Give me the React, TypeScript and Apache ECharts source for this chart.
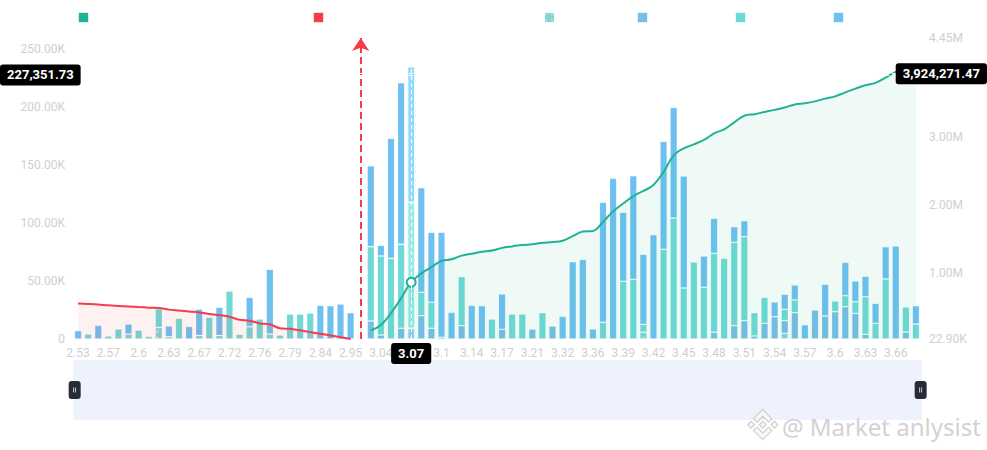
import React, { useEffect, useRef } from "react";
import * as echarts from "echarts";

// ---- data ----
const categories = [
  "2.53", "2.54", "2.56", "2.57", "2.58", "2.59", "2.6", "2.61", "2.62", "2.63",
  "2.64", "2.66", "2.67", "2.69", "2.7", "2.72", "2.73", "2.75", "2.76", "2.77",
  "2.78", "2.79", "2.81", "2.83", "2.84", "2.88", "2.92", "2.95", "2.99", "3.03",
  "3.04", "3.05", "3.06", "3.07", "3.08", "3.09", "3.1", "3.11", "3.13", "3.14",
  "3.15", "3.16", "3.17", "3.18", "3.2", "3.21", "3.23", "3.29", "3.32", "3.33",
  "3.35", "3.36", "3.37", "3.38", "3.39", "3.4", "3.41", "3.42", "3.43", "3.44",
  "3.45", "3.46", "3.47", "3.48", "3.49", "3.5", "3.51", "3.52", "3.53", "3.54",
  "3.55", "3.56", "3.57", "3.58", "3.59", "3.6", "3.61", "3.62", "3.63", "3.64",
  "3.65", "3.66", "3.67", "3.68",
];

// bar segments, in thousands (stacked bottom -> top)
const dottedVol = [
  0, 0, 0, 0, 0, 0, 0, 0, 10, 0, 0, 0, 0, 0, 0, 0, 0, 0, 0, 0,
  0, 0, 0, 0, 0, 0, 0, 0, 0, 0, 0, 0, 0, 0, 0, 0, 0, 0, 0, 0,
  0, 0, 0, 0, 0, 0, 0, 0, 0, 0, 0, 0, 0, 0, 0, 0, 5.8, 0, 0, 0,
  0, 0, 0, 0, 0, 0, 0, 0, 0, 0, 4.9, 0, 0, 0, 0, 0, 0, 0, 0, 0,
  0, 0, 0, 0,
];
const darkBlueVol = [
  0, 0, 0, 0, 0, 0, 0, 0, 0, 0, 0, 0, 0, 0, 0, 0, 0, 0, 0, 0,
  0, 0, 0, 0, 0, 0, 0, 0, 0, 15.5, 3.4, 0, 9.2, 9.2, 20.1, 9.2, 0, 0, 11.5, 0,
  0, 0, 8.3, 0, 0, 8.6, 0, 11.2, 0, 0, 0, 0, 0, 0, 0, 0, 0, 0, 0, 0,
  0, 0, 0, 5.8, 0, 11.5, 15.8, 2.6, 13.5, 19.2, 10.9, 22.7, 0, 25, 19.8, 23.5, 27.8, 22.1, 4, 0,
  0, 0, 6, 0,
];
const tealVol = [
  0, 4.3, 0, 2.6, 8.6, 4.3, 7.7, 2.3, 16, 2, 17.8, 0, 3, 18.7, 3, 41.3, 4, 10.6, 17.2, 4.3,
  3.4, 21.5, 21.5, 22.4, 0, 0, 0, 0, 0, 64, 68.1, 69.5, 72.3, 108.5, 20.1, 22.4, 1.5, 0, 42.2, 0,
  0, 17.2, 0, 21.5, 21.5, 0, 22.7, 0, 0, 0, 0, 0, 14.4, 0, 49.7, 51.4, 6.8, 0, 77.2, 104.2,
  43.9, 66.3, 44.5, 68, 69.5, 71.8, 72.3, 20.1, 22.4, 0, 9.8, 10.9, 0, 0, 0, 9.2, 9.5, 10, 32.4, 13.5,
  51.7, 0, 21.6, 12.9,
];
const blueVol = [
  7.2, 0, 11.8, 0, 0, 8.6, 0, 0, 0, 9.2, 0, 10.9, 22.8, 0, 24.3, 0, 0, 25.3, 0, 55.7,
  0, 0, 0, 0, 29, 28.7, 30.1, 22.7, 0, 69.7, 9.2, 103.3, 139.2, 116.8, 90.1, 60.3, 90.4, 23, 0, 29,
  28.7, 0, 30.5, 0, 0, 0, 0, 0, 19.5, 66.6, 68.6, 8.6, 103.3, 138.4, 59.4, 89.2, 60.3, 89.8, 93, 95.3,
  96.5, 0, 27, 30.1, 0, 13.4, 13.8, 0, 0, 12.7, 12.9, 12.9, 12.3, 0, 27.3, 0, 28.7, 17.8, 17.6, 17.2,
  27.8, 80.1, 0, 15.8,
];

// cumulative depth, in thousands
const bidDepth = [
  545, 538, 530, 518, 510, 502, 492, 484, 480, 455, 443, 428, 414, 392, 374, 350, 305, 292, 252, 239,
  180, 172, 150, 125, 100, 75, 50, 22.9,
];
const askDepth = [
  149, 230, 403, 624, 858, 988, 1080, 1172, 1195, 1249, 1278, 1307, 1324, 1363, 1385, 1406, 1415, 1438, 1449,
  1469, 1535, 1604, 1612, 1745, 1900, 2015, 2125, 2200, 2288, 2480, 2725, 2827, 2886, 2950, 3048, 3107,
  3210, 3307, 3330, 3362, 3393, 3428, 3472, 3490, 3518, 3558, 3592, 3650, 3705, 3755, 3790, 3868, 3952,
  3988, 4009,
];

const leftTicks = [0, 50000, 100000, 150000, 200000, 250000];
const rightTicks = [22900, 1000000, 2000000, 3000000, 4450000];
const leftMax = 259200;
const rightMin = 22900;
const rightMax = 4450000;
const midIndex = 28; // current price gap
const focusIndex = 33;
const focusLeftValue = 227351.73;
const focusRightValue = 3924271.47;

const logoPath =
  "M38.73 53.2 L64 27.93 L89.28 53.22 L103.98 38.52 L64 -1.45 L24.04 38.51 Z M-1.45 64 L13.25 49.3 L27.95 64 L13.25 78.7 Z M38.73 74.8 L64 100.07 L89.27 74.8 L103.98 89.49 L64 129.45 L24.04 89.49 Z M100.05 64 L114.75 49.3 L129.45 64 L114.75 78.7 Z M78.91 64 L64 49.08 L49.08 64 L64 78.91 Z";

let logoRegistered = false;

const fmtAxis = (v: number) => {
  if (v === 0) return "0";
  if (v >= 1e6) return (v / 1e6).toFixed(2) + "M";
  return (v / 1e3).toFixed(2) + "K";
};
const fmtFull = (v: number) =>
  Number(v).toLocaleString("en-US", { minimumFractionDigits: 2, maximumFractionDigits: 2 });

const C = {
  green: "#1fb394",
  red: "#f73b4c",
  blue: "#6ec0f0",
  teal: "#6fd9d6",
  darkBlue: "#78bde6",
  dotted: "#7fd6d2",
  label: "#cfcfcf",
};

const focusColors: Record<string, string> = {
  blue: "#8ddbfa",
  teal: "#93ebe5",
  darkBlue: "#92cdf0",
  dotted: "#9be3df",
};

export default function App() {
  const ref = useRef<HTMLDivElement>(null);

  useEffect(() => {
    document.body.style.margin = "0";
    if (!logoRegistered) {
      echarts.graphic.registerShape("logo", echarts.graphic.extendPath(logoPath, {}));
      logoRegistered = true;
    }
    const chart = echarts.init(ref.current!, undefined, { renderer: "svg" });

    const barBorder = "rgba(255,255,255,0.15)";
    const barData = (arr: number[], key: string) =>
      arr.map((v, i) => {
        const val = v ? v * 1000 : null;
        if (i === focusIndex && val !== null) {
          return { value: val, itemStyle: { color: focusColors[key], borderColor: "rgba(255,255,255,0.5)" } };
        }
        return val;
      });

    const bidFull: (number | null)[] = categories.map((_, i) => (i < bidDepth.length ? bidDepth[i] * 1000 : null));
    const askStart = midIndex + 1;
    const askFull: any[] = categories.map((_, i) => {
      if (i < askStart) return null;
      const v = askDepth[i - askStart] * 1000;
      if (i === focusIndex) {
        return {
          value: v,
          symbol: "circle",
          symbolSize: 9,
          itemStyle: { color: "#fff", borderColor: C.green, borderWidth: 2 },
        };
      }
      return v;
    });

    const barCommon = {
      type: "bar" as const,
      stack: "vol",
      barWidth: "72%",
      yAxisIndex: 0,
      z: 2,
      emphasis: { disabled: true },
    };

    const pointerLabel = {
      show: true,
      backgroundColor: "#000",
      color: "#fff",
      fontWeight: "bold" as const,
      fontSize: 13,
      fontFamily: "Roboto",
      padding: [4, 7, 4, 7],
      borderRadius: 3,
      margin: 4,
    };
    const pointerLine = { color: "#fff", type: [4, 3] as any, width: 1 };

    const legendCommon = {
      top: 7,
      itemWidth: 10,
      itemHeight: 10,
      icon: "rect",
      formatter: () => "",
      selectedMode: false,
      itemStyle: { borderColor: "rgba(255,255,255,0.6)", borderWidth: 1 },
    };

    chart.setOption({
      animation: false,
      textStyle: { fontFamily: "Roboto" },
      legend: [
        { ...legendCommon, left: 73, data: ["Ask Depth"] },
        { ...legendCommon, left: 308, data: ["Bid Depth"] },
        { ...legendCommon, left: 539, data: ["Hidden Volume"] },
        { ...legendCommon, left: 632, data: ["Maker Volume"] },
        { ...legendCommon, left: 730, data: ["Taker Volume"] },
        { ...legendCommon, left: 828, data: ["Total Volume"] },
      ],
      grid: { left: 73, right: 66, top: 38, bottom: 111 },
      xAxis: {
        type: "category",
        data: categories,
        boundaryGap: true,
        axisLine: { show: false },
        axisTick: { show: false },
        axisLabel: { interval: 2, color: C.label, fontSize: 12, margin: 8 },
        axisPointer: {
          show: true,
          status: "show",
          value: focusIndex,
          type: "line",
          snap: true,
          triggerTooltip: false,
          lineStyle: pointerLine,
          label: pointerLabel,
        },
      },
      yAxis: [
        {
          type: "value",
          position: "left",
          min: 0,
          max: leftMax,
          interval: 50000,
          axisLine: { show: false },
          axisTick: { show: false },
          splitLine: { show: true, lineStyle: { color: "rgba(255,255,255,0.85)", type: "dotted" } },
          axisLabel: {
            color: C.label,
            fontSize: 12,
            customValues: leftTicks,
            formatter: fmtAxis,
          },
          axisPointer: {
            show: true,
            status: "show",
            value: focusLeftValue,
            type: "line",
            triggerTooltip: false,
            lineStyle: pointerLine,
            label: { ...pointerLabel, formatter: (p: any) => fmtFull(p.value) },
          },
        },
        {
          type: "value",
          position: "right",
          min: rightMin,
          max: rightMax,
          axisLine: { show: false },
          axisTick: { show: false },
          splitLine: { show: false },
          axisLabel: {
            color: C.label,
            fontSize: 12,
            customValues: rightTicks,
            formatter: fmtAxis,
          },
          axisPointer: {
            show: true,
            status: "show",
            value: focusRightValue,
            type: "line",
            triggerTooltip: false,
            lineStyle: pointerLine,
            label: { ...pointerLabel, formatter: (p: any) => fmtFull(p.value) },
          },
        },
      ],
      dataZoom: [
        {
          type: "slider",
          xAxisIndex: 0,
          start: 0,
          end: 100,
          left: 73,
          right: 66,
          top: 360,
          height: 60,
          backgroundColor: "#eef2fd",
          fillerColor: "#eef2fd",
          borderColor: "transparent",
          showDataShadow: false,
          showDetail: false,
          brushSelect: false,
          moveHandleSize: 0,
          dataBackground: { lineStyle: { opacity: 0 }, areaStyle: { opacity: 0 } },
          handleIcon:
            "path://M3,0 H9 A3,3 0 0 1 12,3 V15 A3,3 0 0 1 9,18 H3 A3,3 0 0 1 0,15 V3 A3,3 0 0 1 3,0 Z M4.6,6.5 V11.5 H5.4 V6.5 Z M6.6,6.5 V11.5 H7.4 V6.5 Z",
          handleSize: "30%",
          handleStyle: { color: "#262b38", borderColor: "#262b38", borderWidth: 0 },
          emphasis: { handleStyle: { color: "#262b38", borderColor: "#262b38" } },
        },
      ],
      series: [
        {
          ...barCommon,
          name: "Hidden Volume",
          data: barData(dottedVol, "dotted"),
          itemStyle: {
            color: C.dotted,
            borderColor: barBorder,
            borderWidth: 1,
            decal: {
              symbol: "circle",
              symbolSize: 0.6,
              color: "rgba(255,255,255,0.6)",
              dashArrayX: 3,
              dashArrayY: 3,
            },
          },
        },
        {
          ...barCommon,
          name: "Maker Volume",
          data: barData(darkBlueVol, "darkBlue"),
          itemStyle: { color: C.darkBlue, borderColor: barBorder, borderWidth: 1 },
        },
        {
          ...barCommon,
          name: "Taker Volume",
          data: barData(tealVol, "teal"),
          itemStyle: { color: C.teal, borderColor: barBorder, borderWidth: 1 },
        },
        {
          ...barCommon,
          name: "Total Volume",
          data: barData(blueVol, "blue"),
          itemStyle: { color: C.blue, borderColor: barBorder, borderWidth: 1 },
        },
        {
          type: "line",
          name: "Ask Depth",
          yAxisIndex: 1,
          data: askFull,
          smooth: 0.4,
          symbol: "none",
          showAllSymbol: true,
          z: 3,
          lineStyle: { color: C.green, width: 2 },
          itemStyle: { color: C.green },
          areaStyle: { color: "rgba(31,179,148,0.1)" },
          emphasis: { disabled: true },
        },
        {
          type: "line",
          name: "Bid Depth",
          yAxisIndex: 1,
          data: bidFull,
          smooth: 0.3,
          symbol: "none",
          z: 3,
          lineStyle: { color: C.red, width: 2 },
          itemStyle: { color: C.red },
          areaStyle: { color: "rgba(247,59,76,0.1)" },
          emphasis: { disabled: true },
          markLine: {
            silent: true,
            symbol: ["none", "arrow"],
            symbolSize: 13,
            label: { show: false },
            lineStyle: { color: C.red, type: [7, 4], width: 2 },
            data: [{ xAxis: midIndex }],
          },
        },
      ],
      graphic: [
        {
          type: "logo",
          x: 748,
          y: 410,
          scaleX: 0.23,
          scaleY: 0.23,
          z: 100,
          style: { fill: "#f7f7f7", stroke: "#cfcfcf", lineWidth: 5 },
        },
        {
          type: "text",
          x: 782,
          y: 426,
          z: 100,
          style: {
            text: "@ Market anlysist",
            fill: "#d2d2d2",
            font: '24px "Noto Sans"',
            verticalAlign: "middle",
          },
        },
      ],
    });

    return () => chart.dispose();
  }, []);

  return <div ref={ref} style={{ width: 987, height: 450 }} />;
}
